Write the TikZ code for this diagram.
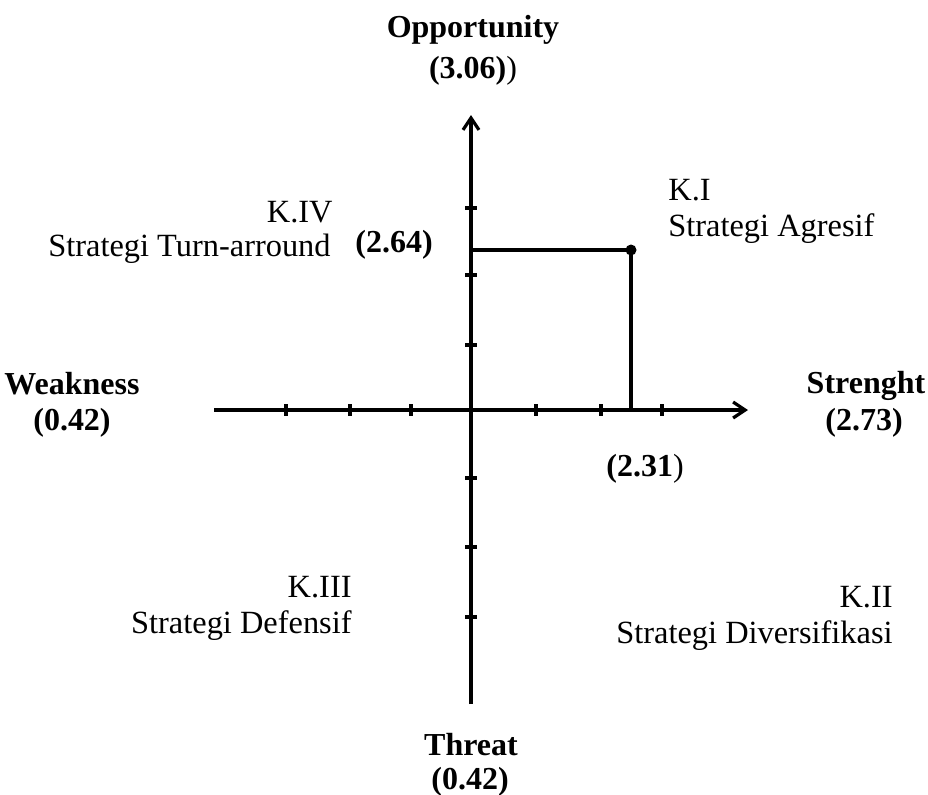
\documentclass[tikz,border=0pt]{standalone}
\usepackage{fontspec}
\setmainfont{Liberation Serif}
\usetikzlibrary{arrows.meta}
\begin{document}
\begin{tikzpicture}[x=0.5pt,y=-0.5pt,
  lbl/.style={inner sep=0pt, font=\fontsize{16.2}{18}\selectfont},
  blbl/.style={inner sep=0pt, font=\fontsize{16}{18}\selectfont\bfseries},
  axisline/.style={line width=1.6pt, -{Straight Barb[length=6pt,width=8pt,line width=1.6pt]}},
  tickmark/.style={line width=1.6pt},
  guide/.style={line width=1.6pt}]
\useasboundingbox (0,0) rectangle (928,794);
% axes
\coordinate (O) at (471,410);
\coordinate (L) at (214,410);
\coordinate (R) at (748,410);
\coordinate (B) at (471,704);
\coordinate (T) at (471,115);
\coordinate (P) at (631,250);
\draw[axisline] (L) -- (R);
\draw[axisline] (B) -- (T);
\foreach \x in {286,350,411,536,601,662} \draw[tickmark] (\x,404) -- (\x,416);
\foreach \y in {208,275,345,478,547,617} \draw[tickmark] (465,\y) -- (477,\y);
% point guides
\draw[guide] (O |- P) -- (P) -- (P |- O);
\fill (P) circle[radius=2.75pt];
% labels
\node[blbl, anchor=base] (opp) at (473,37) {Opportunity};
\node[blbl, anchor=base] (oppv) at (473,78) {(3.06)\textmd{)}};
\node[lbl, anchor=base east] (k4) at (333,222) {K.IV};
\node[lbl, anchor=base east] (k4s) at (331,256) {Strategi Turn-arround};
\node[blbl, anchor=base west] (yv) at (355,252) {(2.64)};
\node[lbl, anchor=base west] (k1) at (668,200) {K.I};
\node[lbl, anchor=base west] (k1s) at (668,236) {Strategi Agresif};
\node[blbl, anchor=base] (weak) at (72,394) {Weakness};
\node[blbl, anchor=base] (weakv) at (72,430) {(0.42)};
\node[blbl, anchor=base] (str) at (866,393) {Strenght};
\node[blbl, anchor=base] (strv) at (864,430) {(2.73)};
\node[blbl, anchor=base west] (xv) at (606,476) {(2.31\textmd{)}};
\node[lbl, anchor=base east] (k3) at (352,597) {K.III};
\node[lbl, anchor=base east] (k3s) at (352,633) {Strategi Defensif};
\node[lbl, anchor=base east] (k2) at (893,607) {K.II};
\node[lbl, anchor=base east] (k2s) at (893,643) {Strategi Diversifikasi};
\node[blbl, anchor=base] (thr) at (471,755) {Threat};
\node[blbl, anchor=base] (thrv) at (470,789) {(0.42)};
\end{tikzpicture}
\end{document}
